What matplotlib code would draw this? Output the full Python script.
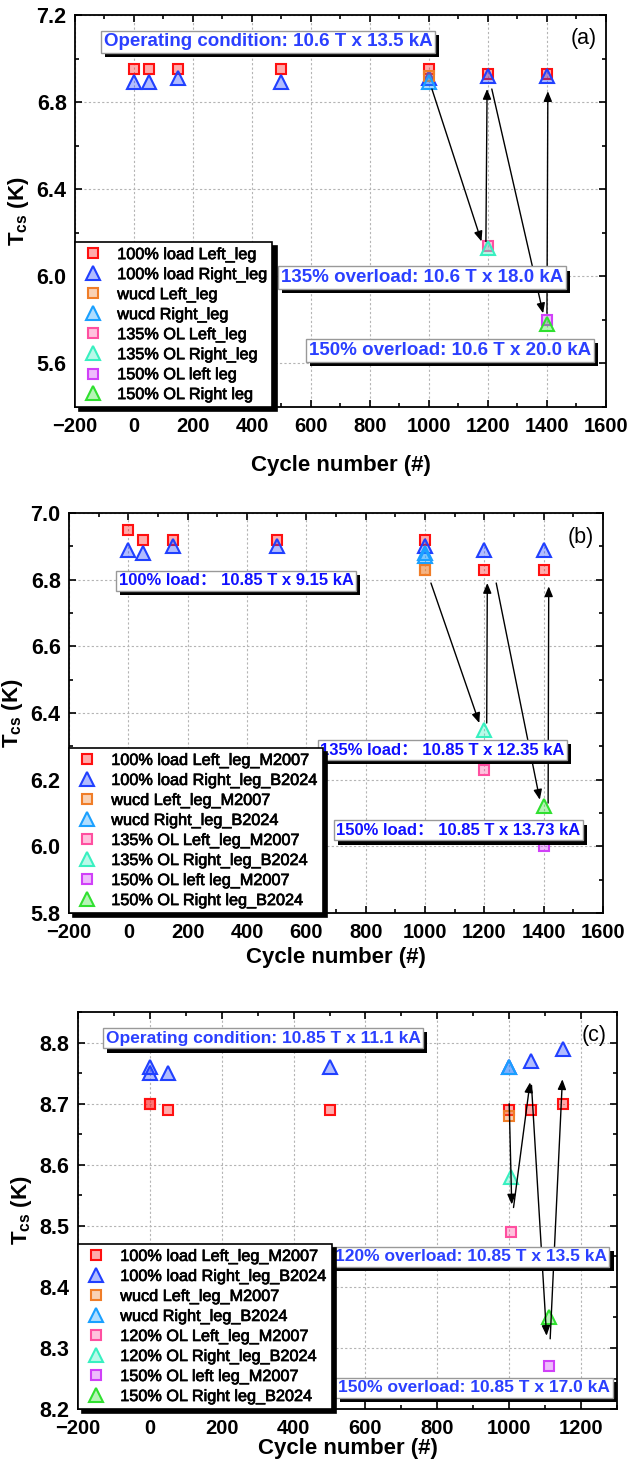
import numpy as np
import matplotlib
matplotlib.use('Agg')
import matplotlib.pyplot as plt
import matplotlib.patheffects as pe
from matplotlib.ticker import MultipleLocator

plt.rcParams['font.family'] = ['Liberation Sans', 'Noto Sans CJK SC', 'DejaVu Sans']
plt.rcParams['mathtext.fontset'] = 'custom'
plt.rcParams['mathtext.rm'] = 'Liberation Sans:bold'
plt.rcParams['mathtext.it'] = 'Liberation Sans:bold'
plt.rcParams['mathtext.bf'] = 'Liberation Sans:bold'
plt.rcParams['mathtext.default'] = 'rm'

######### data ###########################
# panel (a)
a_x100 = [0, 50, 150, 500, 1000, 1200, 1400]
a_left100 = [6.95, 6.95, 6.95, 6.95, 6.95, 6.93, 6.93]
a_right100 = [6.89, 6.89, 6.91, 6.89, 6.91, 6.92, 6.92]
a_x_wucd = [1000]
a_left_wucd = [6.92]
a_right_wucd = [6.89]
a_x_ol1 = [1200]
a_left_ol1 = [6.14]
a_right_ol1 = [6.13]
a_x_ol2 = [1400]
a_left_ol2 = [5.80]
a_right_ol2 = [5.78]
a_arrows = [((1010, 6.86), (1178, 6.16)), ((1193, 6.16), (1197, 6.86)),
            ((1213, 6.86), (1387, 5.83)), ((1400, 5.83), (1403, 6.85))]
a_labels = ['100% load Left_leg', '100% load Right_leg', 'wucd Left_leg', 'wucd Right_leg',
            '135% OL Left_leg', '135% OL Right_leg', '150% OL left leg', '150% OL Right leg']
a_notes = [('Operating condition: 10.6 T x 13.5 kA', 454, 7.076),
           ('135% overload: 10.6 T x 18.0 kA', 976, 5.993),
           ('150% overload: 10.6 T x 20.0 kA', 1071, 5.660)]

# panel (b)
b_x100 = [0, 50, 150, 500, 1000, 1200, 1400]
b_left100 = [6.95, 6.92, 6.92, 6.92, 6.92, 6.83, 6.83]
b_right100 = [6.89, 6.88, 6.90, 6.90, 6.90, 6.89, 6.89]
b_x_wucd = [1000, 1000]
b_left_wucd = [6.83, 6.83]
b_right_wucd = [6.88, 6.87]
b_x_ol1 = [1200]
b_left_ol1 = [6.23]
b_right_ol1 = [6.35]
b_x_ol2 = [1400]
b_left_ol2 = [6.00]
b_right_ol2 = [6.12]
b_arrows = [((1020, 6.79), (1183, 6.37)), ((1208, 6.37), (1210, 6.79)),
            ((1240, 6.79), (1387, 6.14)), ((1415, 6.13), (1417, 6.78))]
b_labels = ['100% load Left_leg_M2007', '100% load Right_leg_B2024', 'wucd Left_leg_M2007',
            'wucd Right_leg_B2024', '135% OL Left_leg_M2007', '135% OL Right_leg_B2024',
            '150% OL left leg_M2007', '150% OL Right leg_B2024']
b_notes = [('100% load\uff1a 10.85 T x 9.15 kA', 363, 6.797),
           ('135% load\uff1a 10.85 T x 12.35 kA', 1058, 6.289),
           ('150% load\uff1a 10.85 T x 13.73 kA', 1112, 6.048)]

# panel (c)
c_x100 = [0, 0, 50, 500, 1000, 1060, 1150]
c_left100 = [8.70, 8.70, 8.69, 8.69, 8.69, 8.69, 8.70]
c_right100 = [8.76, 8.75, 8.75, 8.76, 8.76, 8.77, 8.79]
c_x_wucd = [1000]
c_left_wucd = [8.68]
c_right_wucd = [8.76]
c_x_ol1 = [1005]
c_left_ol1 = [8.49]
c_right_ol1 = [8.58]
c_x_ol2 = [1110]
c_left_ol2 = [8.27]
c_right_ol2 = [8.35]
c_arrows = [((1000, 8.70), (1007, 8.535)), ((1012, 8.53), (1058, 8.735)),
            ((1062, 8.73), (1104, 8.32)), ((1114, 8.315), (1148, 8.74))]
c_labels = ['100% load Left_leg_M2007', '100% load Right_leg_B2024', 'wucd Left_leg_M2007',
            'wucd Right_leg_B2024', '120% OL Left_leg_M2007', '120% OL Right_leg_B2024',
            '150% OL left leg_M2007', '150% OL Right leg_B2024']
c_notes = [('Operating condition: 10.85 T x 11.1 kA', 315, 8.807),
           ('120% overload: 10.85 T x 13.5 kA', 893, 8.449),
           ('150% overload: 10.85 T x 17.0 kA', 902, 8.235)]

edge_cols = ['#ff1010', '#2040ff', '#f07d28', '#1aa0ff', '#ff4fa0', '#38f0c0', '#d040f8', '#30e030']
markers = ['s', '^', 's', '^', 's', '^', 's', '^']


def draw_panel(ax, series, labels, arrows, notes, note_size, note_col, tag):
    for i, (x, y) in enumerate(series):
        c = matplotlib.colors.to_rgb(edge_cols[i])
        ms = 7 if markers[i] == 's' else 10
        ax.plot(x, y, linestyle='none', marker=markers[i], ms=ms, mec=edge_cols[i],
                mfc=(c[0], c[1], c[2], 0.35), mew=1.5, label=labels[i], zorder=3 + i)
    for tail, head in arrows:
        ax.annotate('', xy=head, xytext=tail,
                    arrowprops=dict(arrowstyle='-|>,head_length=0.6,head_width=0.25',
                                    color='k', lw=1.0, mutation_scale=10,
                                    shrinkA=0, shrinkB=0), zorder=20)
    for txt, x, y in notes:
        t = ax.text(x, y, txt, ha='center', va='center', fontsize=note_size,
                    fontweight='bold', color=note_col, zorder=30,
                    bbox=dict(boxstyle='square,pad=0.15', fc='white', ec='#999999', lw=1))
        t.get_bbox_patch().set_path_effects([
            pe.SimplePatchShadow(offset=(3, -3), shadow_rgbFace='k', alpha=1), pe.Normal()])
    ax.text(0.958, 0.94, tag, transform=ax.transAxes, fontsize=15.5,
            ha='center', va='center')
    leg = ax.legend(loc='lower left', bbox_to_anchor=(0, 0), borderaxespad=0,
                    prop={'size': 11.7}, frameon=True,
                    fancybox=False, edgecolor='k', framealpha=1,
                    handlelength=1.6, handletextpad=0.7, borderpad=0.3, labelspacing=0.3,
                    shadow={'color': 'k', 'alpha': 1, 'ox': 3, 'oy': -3})
    leg.get_frame().set_linewidth(1.2)
    leg.set_zorder(40)
    for t in leg.get_texts():
        t.set_path_effects([pe.withStroke(linewidth=0.5, foreground='k')])
    ax.grid(True, which='major', linestyle=(0, (2, 2)), color='#b4b4b4', lw=0.8)
    ax.set_axisbelow(True)
    ax.tick_params(which='both', direction='in', top=True, right=True, width=1.2)
    ax.tick_params(which='major', length=5)
    ax.tick_params(which='minor', length=3)
    ax.tick_params(axis='x', labelsize=14.5, pad=7)
    ax.tick_params(axis='y', labelsize=15.5, pad=6)
    for lab in ax.get_xticklabels() + ax.get_yticklabels():
        lab.set_fontweight('bold')
    for s in ax.spines.values():
        s.set_linewidth(1.3)
    ax.set_ylabel('T$_{cs}$ (K)', fontsize=16, fontweight='bold')


fig = plt.figure(figsize=(6.28, 14.67), dpi=100)

# (a)
ax1 = fig.add_axes([0.1194, 0.7226, 0.8455, 0.2672])
ax1.set_xlim(-200, 1600)
ax1.set_ylim(5.4, 7.2)
ax1.xaxis.set_major_locator(MultipleLocator(200))
ax1.xaxis.set_minor_locator(MultipleLocator(100))
ax1.yaxis.set_major_locator(MultipleLocator(0.4))
ax1.yaxis.set_minor_locator(MultipleLocator(0.2))
ax1.set_yticks([5.6, 6.0, 6.4, 6.8, 7.2])
series_a = [(a_x100, a_left100), (a_x100, a_right100), (a_x_wucd, a_left_wucd),
            (a_x_wucd, a_right_wucd), (a_x_ol1, a_left_ol1), (a_x_ol1, a_right_ol1),
            (a_x_ol2, a_left_ol2), (a_x_ol2, a_right_ol2)]
draw_panel(ax1, series_a, a_labels, a_arrows, a_notes, 13.5, '#2b40ff', '(a)')
ax1.set_xlabel('Cycle number (#)', fontsize=16, fontweight='bold', labelpad=14)

# (b)
ax2 = fig.add_axes([0.1099, 0.3776, 0.8503, 0.2727])
ax2.set_xlim(-200, 1600)
ax2.set_ylim(5.8, 7.0)
ax2.xaxis.set_major_locator(MultipleLocator(200))
ax2.xaxis.set_minor_locator(MultipleLocator(100))
ax2.yaxis.set_major_locator(MultipleLocator(0.2))
ax2.yaxis.set_minor_locator(MultipleLocator(0.1))
series_b = [(b_x100, b_left100), (b_x100, b_right100), (b_x_wucd, b_left_wucd),
            (b_x_wucd, b_right_wucd), (b_x_ol1, b_left_ol1), (b_x_ol1, b_right_ol1),
            (b_x_ol2, b_left_ol2), (b_x_ol2, b_right_ol2)]
draw_panel(ax2, series_b, b_labels, b_arrows, b_notes, 12, '#1010ff', '(b)')
ax2.set_xlabel('Cycle number (#)', fontsize=16, fontweight='bold', labelpad=4)

# (c)
ax3 = fig.add_axes([0.1242, 0.0395, 0.8583, 0.2706])
ax3.set_xlim(-200, 1300)
ax3.set_ylim(8.2, 8.85)
ax3.xaxis.set_major_locator(MultipleLocator(200))
ax3.xaxis.set_minor_locator(MultipleLocator(100))
ax3.yaxis.set_major_locator(MultipleLocator(0.1))
ax3.yaxis.set_minor_locator(MultipleLocator(0.05))
series_c = [(c_x100, c_left100), (c_x100, c_right100), (c_x_wucd, c_left_wucd),
            (c_x_wucd, c_right_wucd), (c_x_ol1, c_left_ol1), (c_x_ol1, c_right_ol1),
            (c_x_ol2, c_left_ol2), (c_x_ol2, c_right_ol2)]
draw_panel(ax3, series_c, c_labels, c_arrows, c_notes, 12.5, '#2b40ff', '(c)')
ax3.set_xlabel('Cycle number (#)', fontsize=16, fontweight='bold', labelpad=0)

fig.savefig('out.png', dpi=100)
